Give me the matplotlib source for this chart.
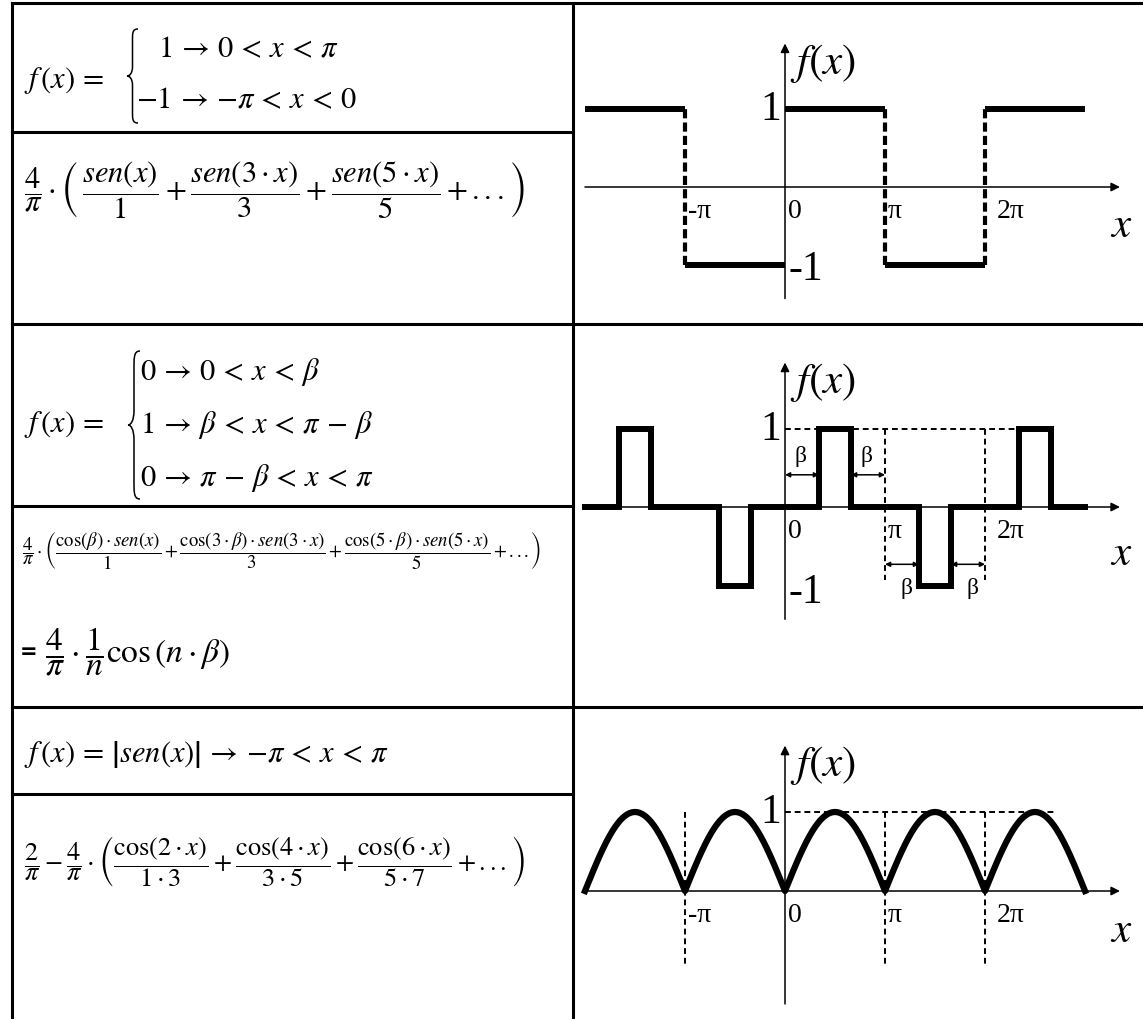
import numpy as np
import matplotlib
matplotlib.use('Agg')
import matplotlib.pyplot as plt
from matplotlib.path import Path
from matplotlib.patches import PathPatch

plt.rcParams['mathtext.fontset'] = 'stix'
plt.rcParams['font.family'] = ['Liberation Serif', 'DejaVu Serif']

W, H = 1143, 1020

# square wave +-1 (first row)
sq_edges = [-2, -1, 0, 1, 2, 3]      # in units of pi
sq_levels = [1, -1, 1, -1, 1]
sq_jumps = [-1, 1, 2]

# narrow pulses of width pi-2*beta (second row)
pulse_periods = [-2, -1, 0, 1, 2]
pulse_signs = [1, -1, 1, -1, 1]
beta = 0.34

# |sen(x)| (third row)
abs_x = np.linspace(-2, 3, 801)
abs_y = np.abs(np.sin(np.pi * abs_x))

tick_pos = [-1, 0, 1, 2]
tick_text = ['-π', '0', 'π', '2π']

fig = plt.figure(figsize=(W / 100, H / 100), dpi=100)

# table with the formulas, drawn in pixel coordinates
tab = fig.add_axes([0, 0, 1, 1])
tab.set_xlim(0, W)
tab.set_ylim(H, 0)
tab.axis('off')

lw_tab = 2.2
tab.plot([12, W], [4, 4], color='k', lw=lw_tab)
tab.plot([12, 12], [4, H], color='k', lw=lw_tab)
tab.plot([573, 573], [4, H], color='k', lw=lw_tab)
for yy in [325, 708]:
    tab.plot([12, W], [yy, yy], color='k', lw=lw_tab)
for yy in [133, 507, 795]:
    tab.plot([12, 573], [yy, yy], color='k', lw=lw_tab)


def brace(x, yt, yb, w=11):
    ym = (yt + yb) / 2
    h = yb - yt
    verts = [(x + w, yt),
             (x + w * 0.45, yt), (x + w * 0.5, yt + h * 0.05), (x + w * 0.5, yt + h * 0.14),
             (x + w * 0.5, ym - h * 0.1),
             (x + w * 0.5, ym - h * 0.03), (x + w * 0.25, ym), (x, ym),
             (x + w * 0.25, ym), (x + w * 0.5, ym + h * 0.03), (x + w * 0.5, ym + h * 0.1),
             (x + w * 0.5, yb - h * 0.14),
             (x + w * 0.5, yb - h * 0.05), (x + w * 0.45, yb), (x + w, yb)]
    codes = [Path.MOVETO, Path.CURVE4, Path.CURVE4, Path.CURVE4, Path.LINETO,
             Path.CURVE4, Path.CURVE4, Path.CURVE4,
             Path.CURVE4, Path.CURVE4, Path.CURVE4, Path.LINETO,
             Path.CURVE4, Path.CURVE4, Path.CURVE4]
    tab.add_patch(PathPatch(Path(verts, codes), fill=False, lw=1.1, color='k'))


fs = 22
tab.text(24, 80, r'$f\,(x)\,=$', fontsize=fs, va='center', ha='left')
brace(127, 30, 124)
tab.text(158, 50, r'$1\,\rightarrow\,0\,<\,x\,<\,\pi$', fontsize=fs, va='center')
tab.text(136, 101, r'${-}1\,\rightarrow\,{-}\pi\,<\,x\,<\,0$', fontsize=fs, va='center')

tab.text(24, 190, r'$\dfrac{4}{\pi}\cdot\left(\,\dfrac{sen(x)}{1}+\dfrac{sen(3\cdot x)}{3}'
         r'+\dfrac{sen(5\cdot x)}{5}+...\right)$', fontsize=fs, va='center')

tab.text(24, 425, r'$f\,(x)\,=$', fontsize=fs, va='center')
brace(128, 352, 500, w=12)
tab.text(140, 372, r'$0\,\rightarrow\,0\,<\,x\,<\,\beta$', fontsize=fs, va='center')
tab.text(140, 425, r'$1\,\rightarrow\,\beta\,<\,x\,<\,\pi\,-\,\beta$', fontsize=fs, va='center')
tab.text(140, 478, r'$0\,\rightarrow\,\pi\,-\,\beta\,<\,x\,<\,\pi$', fontsize=fs, va='center')

tab.text(22, 551, r'$\dfrac{4}{\pi}\cdot\left(\dfrac{\cos(\beta)\cdot sen(x)}{1}'
         r'+\dfrac{\cos(3\cdot\beta)\cdot sen(3\cdot x)}{3}'
         r'+\dfrac{\cos(5\cdot\beta)\cdot sen(5\cdot x)}{5}+...\right)$', fontsize=13.5, va='center')
tab.text(20, 652, '=', fontsize=15, fontweight='bold', family='DejaVu Sans', va='center')
tab.text(45, 652, r'$\dfrac{4}{\pi}\cdot\dfrac{1}{n}\cos\left(n\cdot\beta\right)$', fontsize=24, va='center')

tab.text(24, 755, r'$f\,(x)\,=\,\left|sen(x)\right|\,\rightarrow\,{-}\pi\,<\,x\,<\,\pi$',
         fontsize=fs, va='center')
tab.text(24, 862, r'$\dfrac{2}{\pi}-\dfrac{4}{\pi}\cdot\left(\dfrac{\cos(2\cdot x)}{1\cdot 3}'
         r'+\dfrac{\cos(4\cdot x)}{3\cdot 5}+\dfrac{\cos(6\cdot x)}{5\cdot 7}+...\right)$',
         fontsize=19, va='center')


def plot_axes(y0_px, unit_px, x_lab_y=-0.5):
    ylo, yhi = -1.65, 1.95
    top = y0_px - yhi * unit_px
    bottom = y0_px - ylo * unit_px
    ax = fig.add_axes([575 / W, 1 - bottom / H, 560 / W, (bottom - top) / H])
    ax.set_xlim(-2.1, 3.5)
    ax.set_ylim(ylo, yhi)
    ax.axis('off')
    ax.patch.set_alpha(0)
    arr = dict(arrowstyle='-|>', lw=1.1, color='k', mutation_scale=13, shrinkA=0, shrinkB=0)
    ax.annotate('', xy=(3.35, 0), xytext=(-2.0, 0), arrowprops=arr)
    ax.annotate('', xy=(0, 1.84), xytext=(0, -1.43), arrowprops=arr)
    ax.text(0.05, 1.6, r'$f(x)$', fontsize=31, va='center', ha='left')
    ax.text(3.36, x_lab_y, r'$x$', fontsize=31, va='center', ha='center')
    ax.text(-0.04, 1.0, '1', fontsize=30, va='center', ha='right')
    return ax


def x_ticks(ax, skip=(), yt=-0.3):
    for p, t in zip(tick_pos, tick_text):
        if t in skip:
            continue
        off = 0.12 if t == '2π' else 0.03
        ax.text(p + off, yt, t, fontsize=20, va='center', ha='left')


# first plot: square wave
ax1 = plot_axes(188, 78)
for a, b, lv in zip(sq_edges[:-1], sq_edges[1:], sq_levels):
    ax1.plot([a, b], [lv, lv], color='k', lw=4.3, solid_capstyle='butt', zorder=3)
for j in sq_jumps:
    ax1.plot([j, j], [-1, 1], color='k', lw=3, ls=(0, (2.2, 1.0)), zorder=3)
ax1.text(0.03, -1.05, '-1', fontsize=30, va='center', ha='left')
x_ticks(ax1)

# second plot: pulses
ax2 = plot_axes(508, 78.5, x_lab_y=-0.6)
px, py = [pulse_periods[0]], [0]
for k, s in zip(pulse_periods, pulse_signs):
    px += [k + beta, k + beta, k + 1 - beta, k + 1 - beta]
    py += [0, s, s, 0]
px.append(pulse_periods[-1] + 1)
py.append(0)
ax2.plot(px, py, color='k', lw=4.3, zorder=3, solid_joinstyle='miter')
dash = dict(color='k', lw=1.4, ls=(0, (3.0, 2.0)))
ax2.plot([0, 2 + beta], [1, 1], **dash)
ax2.plot([1, 1], [1, -0.93], **dash)
ax2.plot([2, 2], [1, -0.93], **dash)
barr = dict(arrowstyle='<|-|>', lw=1.1, color='k', mutation_scale=7, shrinkA=0, shrinkB=0)
for a, b, yy in [(0, beta, 0.41), (1 - beta, 1, 0.41), (1, 1 + beta, -0.73), (2 - beta, 2, -0.73)]:
    ax2.annotate('', xy=(b, yy), xytext=(a, yy), arrowprops=barr)
for xx, yy in [(0.15, 0.66), (0.82, 0.66), (1.22, -1.02), (1.88, -1.02)]:
    ax2.text(xx, yy, 'β', fontsize=17, va='center', ha='center')
ax2.text(0.03, -1.08, '-1', fontsize=30, va='center', ha='left')
x_ticks(ax2, skip=('-π',))

# third plot: |sen(x)|
ax3 = plot_axes(892, 79)
ax3.plot(abs_x, abs_y, color='k', lw=4.5, zorder=3)
ax3.plot([0, 2.7], [1, 1], **dash)
for j in sq_jumps:
    ax3.plot([j, j], [1, -0.92], **dash)
x_ticks(ax3)

fig.savefig('out.png', dpi=100)
